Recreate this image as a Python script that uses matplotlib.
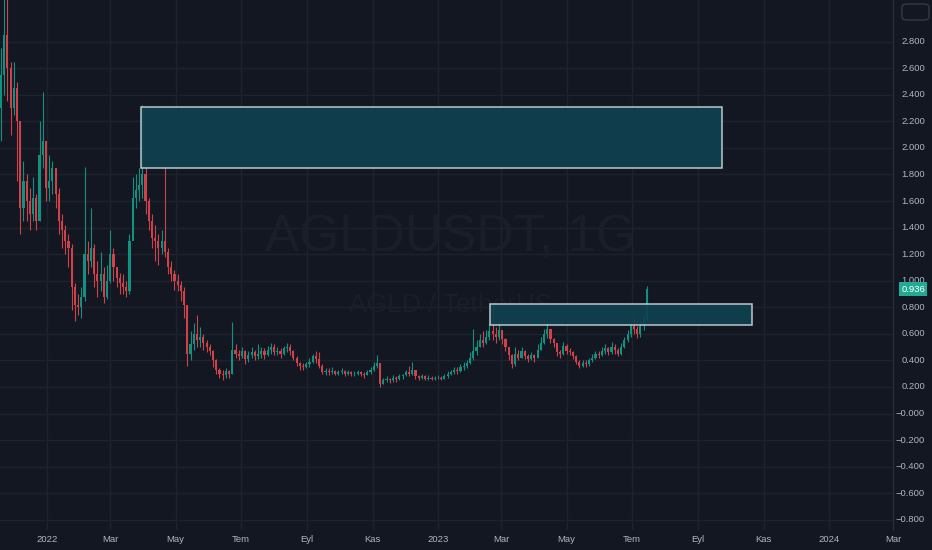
import numpy as np
import matplotlib
matplotlib.use('Agg')
import matplotlib.pyplot as plt
import matplotlib.dates as mdates
from matplotlib.patches import Rectangle, FancyBboxPatch
from datetime import datetime, timedelta

# 3-day candles, AGLD/USDT, starting 19 Nov 2021
start = datetime(2021, 11, 19)
step_days = 3
first_open = 2.30
closes = [2.55, 2.85, 2.60, 2.30, 2.45, 2.20, 1.55, 1.75, 1.60, 1.50,
          1.62, 1.45, 1.95, 2.05, 1.70, 1.75, 1.85, 1.65, 1.45, 1.38,
          1.30, 1.25, 0.95, 0.82, 0.80, 0.88, 1.20, 1.15, 1.25, 1.05,
          1.00, 1.05, 0.88, 1.00, 1.20, 1.10, 1.02, 0.98, 0.95, 0.92,
          1.30, 1.62, 1.68, 1.72, 1.80, 1.60, 1.45, 1.32, 1.30, 1.25,
          1.30, 1.22, 1.10, 1.05, 1.00, 0.97, 0.92, 0.82, 0.45, 0.52,
          0.60, 0.55, 0.58, 0.53, 0.50, 0.47, 0.40, 0.33, 0.30, 0.29,
          0.32, 0.30, 0.48, 0.45, 0.43, 0.47, 0.41, 0.44, 0.46, 0.43,
          0.45, 0.47, 0.44, 0.48, 0.50, 0.46, 0.47, 0.45, 0.49, 0.50,
          0.47, 0.42, 0.38, 0.36, 0.35, 0.37, 0.39, 0.43, 0.41, 0.36,
          0.31, 0.32, 0.31, 0.32, 0.30, 0.31, 0.32, 0.30, 0.31, 0.30,
          0.30, 0.31, 0.30, 0.29, 0.31, 0.33, 0.36, 0.38, 0.22, 0.25,
          0.26, 0.25, 0.27, 0.26, 0.28, 0.29, 0.31, 0.30, 0.33, 0.28,
          0.27, 0.28, 0.26, 0.27, 0.26, 0.27, 0.27, 0.26, 0.28, 0.30,
          0.31, 0.33, 0.32, 0.35, 0.36, 0.38, 0.42, 0.47, 0.50, 0.55,
          0.53, 0.58, 0.62, 0.60, 0.58, 0.63, 0.56, 0.50, 0.44, 0.37,
          0.45, 0.42, 0.47, 0.43, 0.41, 0.44, 0.42, 0.48, 0.53, 0.60,
          0.64, 0.56, 0.53, 0.46, 0.45, 0.51, 0.47, 0.46, 0.43, 0.39,
          0.36, 0.38, 0.37, 0.40, 0.42, 0.45, 0.44, 0.47, 0.49, 0.46,
          0.50, 0.48, 0.45, 0.50, 0.55, 0.60, 0.66, 0.64, 0.60, 0.66,
          0.72, 0.936]
highs = [2.75, 3.15, 3.15, 2.65, 2.65, 2.50, 2.20, 1.90, 1.80, 1.70,
         1.78, 1.65, 2.20, 2.42, 2.05, 1.95, 1.90, 1.85, 1.70, 1.50,
         1.42, 1.35, 1.28, 0.98, 0.90, 0.95, 1.86, 1.30, 1.55, 1.28,
         1.15, 1.22, 1.10, 1.12, 1.38, 1.25, 1.10, 1.06, 1.05, 1.00,
         1.35, 1.78, 1.80, 1.85, 2.32, 1.85, 1.62, 1.50, 1.42, 1.35,
         1.38, 1.85, 1.25, 1.15, 1.08, 1.05, 1.00, 0.95, 0.82, 0.62,
         0.68, 0.74, 0.65, 0.60, 0.55, 0.52, 0.48, 0.41, 0.34, 0.33,
         0.34, 0.33, 0.69, 0.52, 0.48, 0.50, 0.48, 0.47, 0.50, 0.48,
         0.52, 0.50, 0.49, 0.51, 0.53, 0.52, 0.50, 0.49, 0.51, 0.53,
         0.52, 0.48, 0.43, 0.39, 0.38, 0.39, 0.42, 0.45, 0.47, 0.46,
         0.37, 0.34, 0.34, 0.35, 0.33, 0.33, 0.34, 0.33, 0.33, 0.32,
         0.32, 0.33, 0.32, 0.31, 0.33, 0.35, 0.39, 0.44, 0.38, 0.27,
         0.28, 0.27, 0.29, 0.28, 0.30, 0.30, 0.33, 0.36, 0.39, 0.33,
         0.29, 0.30, 0.29, 0.29, 0.28, 0.28, 0.29, 0.28, 0.30, 0.32,
         0.33, 0.35, 0.35, 0.37, 0.39, 0.40, 0.46, 0.64, 0.55, 0.60,
         0.62, 0.63, 0.68, 0.82, 0.65, 0.68, 0.63, 0.57, 0.50, 0.45,
         0.50, 0.48, 0.50, 0.48, 0.45, 0.46, 0.45, 0.52, 0.58, 0.64,
         0.69, 0.63, 0.57, 0.53, 0.48, 0.54, 0.52, 0.49, 0.47, 0.44,
         0.40, 0.40, 0.40, 0.42, 0.45, 0.47, 0.47, 0.50, 0.52, 0.50,
         0.54, 0.52, 0.49, 0.53, 0.58, 0.63, 0.69, 0.73, 0.66, 0.70,
         0.75, 0.96]
lows = [2.05, 2.40, 2.35, 2.10, 2.25, 1.75, 1.35, 1.45, 1.45, 1.38,
        1.45, 1.38, 1.45, 1.85, 1.60, 1.60, 1.65, 1.55, 1.35, 1.25,
        1.20, 1.10, 0.78, 0.70, 0.74, 0.72, 0.85, 1.05, 1.10, 0.95,
        0.88, 0.92, 0.83, 0.86, 0.98, 1.00, 0.95, 0.90, 0.90, 0.88,
        0.90, 1.35, 1.55, 1.60, 1.62, 1.50, 1.38, 1.25, 1.15, 1.12,
        1.20, 1.18, 1.05, 1.00, 0.93, 0.92, 0.85, 0.72, 0.36, 0.40,
        0.48, 0.50, 0.50, 0.48, 0.46, 0.44, 0.35, 0.30, 0.27, 0.25,
        0.27, 0.27, 0.30, 0.42, 0.40, 0.42, 0.37, 0.39, 0.42, 0.40,
        0.41, 0.42, 0.41, 0.43, 0.45, 0.44, 0.44, 0.42, 0.44, 0.46,
        0.44, 0.40, 0.36, 0.33, 0.33, 0.34, 0.35, 0.38, 0.38, 0.34,
        0.30, 0.29, 0.29, 0.30, 0.29, 0.29, 0.30, 0.28, 0.29, 0.28,
        0.28, 0.29, 0.28, 0.27, 0.29, 0.30, 0.32, 0.34, 0.20, 0.22,
        0.24, 0.23, 0.24, 0.24, 0.25, 0.26, 0.28, 0.28, 0.29, 0.26,
        0.25, 0.26, 0.25, 0.25, 0.25, 0.25, 0.26, 0.25, 0.26, 0.27,
        0.29, 0.30, 0.30, 0.31, 0.33, 0.34, 0.37, 0.40, 0.44, 0.50,
        0.50, 0.52, 0.55, 0.55, 0.53, 0.55, 0.52, 0.47, 0.40, 0.34,
        0.36, 0.40, 0.42, 0.41, 0.39, 0.40, 0.39, 0.42, 0.48, 0.52,
        0.57, 0.53, 0.50, 0.43, 0.42, 0.44, 0.45, 0.44, 0.41, 0.37,
        0.34, 0.35, 0.35, 0.36, 0.39, 0.41, 0.42, 0.43, 0.45, 0.44,
        0.45, 0.45, 0.43, 0.44, 0.49, 0.54, 0.58, 0.60, 0.57, 0.58,
        0.63, 0.70]

# drawn zones (start date, end date, low, high)
zones = [(datetime(2022, 3, 30), datetime(2023, 9, 23), 1.849, 2.308),
         (datetime(2023, 2, 19), datetime(2023, 10, 21), 0.667, 0.825)]

price_ticks = [2.8, 2.6, 2.4, 2.2, 2.0, 1.8, 1.6, 1.4, 1.2, 1.0, 0.8, 0.6,
               0.4, 0.2, 0.0, -0.2, -0.4, -0.6, -0.8]
price_labels = ['2.800', '2.600', '2.400', '2.200', '2.000', '1.800', '1.600',
                '1.400', '1.200', '1.000', '0.800', '0.600', '0.400', '0.200',
                '\u22120.000', '\u22120.200', '\u22120.400', '\u22120.600', '\u22120.800']
time_ticks = [datetime(2022, 1, 1), datetime(2022, 3, 1), datetime(2022, 5, 1),
              datetime(2022, 7, 1), datetime(2022, 9, 1), datetime(2022, 11, 1),
              datetime(2023, 1, 1), datetime(2023, 3, 1), datetime(2023, 5, 1),
              datetime(2023, 7, 1), datetime(2023, 9, 1), datetime(2023, 11, 1),
              datetime(2024, 1, 1), datetime(2024, 3, 1)]
time_labels = ['2022', 'Mar', 'May', 'Tem', 'Eyl', 'Kas', '2023', 'Mar', 'May',
               'Tem', 'Eyl', 'Kas', '2024', 'Mar']

plt.rcParams['font.family'] = ['Liberation Sans', 'DejaVu Sans']

bg = '#131722'
grid_c = '#1e222d'
text_c = '#b2b5be'
up_c = '#11917f'
down_c = '#cf4248'

W, H = 932, 550
fig = plt.figure(figsize=(W / 100, H / 100), dpi=100, facecolor=bg)
ax = fig.add_axes([0, 20 / H, 893 / W, 530 / H], facecolor=bg)

dates = np.array([mdates.date2num(start + timedelta(days=step_days * i)) for i in range(len(closes))])
c = np.array(closes)
o = np.concatenate([[first_open], c[:-1]])
hi = np.array(highs)
lo = np.array(lows)
up = c >= o
colors = np.where(up, up_c, down_c)

ax.vlines(dates, lo, hi, colors=colors, linewidth=0.8, zorder=3)
ax.bar(dates, np.abs(c - o), bottom=np.minimum(o, c), width=2.0,
       color=colors, linewidth=0, zorder=3)

for d0, d1, z_lo, z_hi in zones:
    x0 = mdates.date2num(d0)
    x1 = mdates.date2num(d1)
    ax.add_patch(Rectangle((x0, z_lo), x1 - x0, z_hi - z_lo, facecolor='#0f4150',
                           edgecolor='#c9d6da', linewidth=1.1, alpha=0.92, zorder=4))

x_left = mdates.date2num(datetime(2022, 1, 1)) - 43.9
x_right = mdates.date2num(datetime(2023, 1, 1)) + 424.8
ax.set_xlim(x_left, x_right)
ax.set_ylim(-0.877, 3.114)

# grid
for v in price_ticks:
    ax.axhline(v, color=grid_c, linewidth=1, zorder=0)
for t in time_ticks:
    ax.axvline(mdates.date2num(t), color=grid_c, linewidth=1, zorder=0)

ax.set_xticks([])
ax.set_yticks([])
for s in ['top', 'left', 'bottom']:
    ax.spines[s].set_visible(False)
ax.spines['right'].set_color('#2a2e39')

# watermark
ax.text(0.505, 0.551, 'AGLDUSDT, 1G', transform=ax.transAxes, ha='center', va='center',
        fontsize=37, color='#1a1e29', zorder=1)
ax.text(0.505, 0.425, 'AGLD / TetherUS', transform=ax.transAxes, ha='center', va='center',
        fontsize=19, color='#1a1e29', zorder=1)

# price scale labels, right aligned at x = 925 px
y_to_fig = lambda v: (20 + (v + 0.877) / (3.114 + 0.877) * 530) / H
for v, lab in zip(price_ticks, price_labels):
    fig.text(925 / W, y_to_fig(v), lab, ha='right', va='center',
             fontsize=6.8, color=text_c)

# last price label
fig.text(925 / W, y_to_fig(closes[-1]), '0.936', ha='right', va='center',
         fontsize=6.8, color='white', zorder=6,
         bbox=dict(boxstyle='square,pad=0.25', facecolor='#22ab94', edgecolor='none'))

# time labels
for t, lab in zip(time_ticks, time_labels):
    fig.text((mdates.date2num(t) - x_left) / (x_right - x_left) * 893 / W, 10 / H, lab,
             ha='center', va='center', fontsize=6.8, color=text_c)

# small settings box at top right
fig.patches.append(FancyBboxPatch((902 / W, (H - 20) / H), 27 / W, 16 / H,
                                  boxstyle='round,pad=0,rounding_size=0.006',
                                  transform=fig.transFigure, facecolor='none',
                                  edgecolor='#363a45', linewidth=1))

fig.savefig('out.png', dpi=100, facecolor=bg)
